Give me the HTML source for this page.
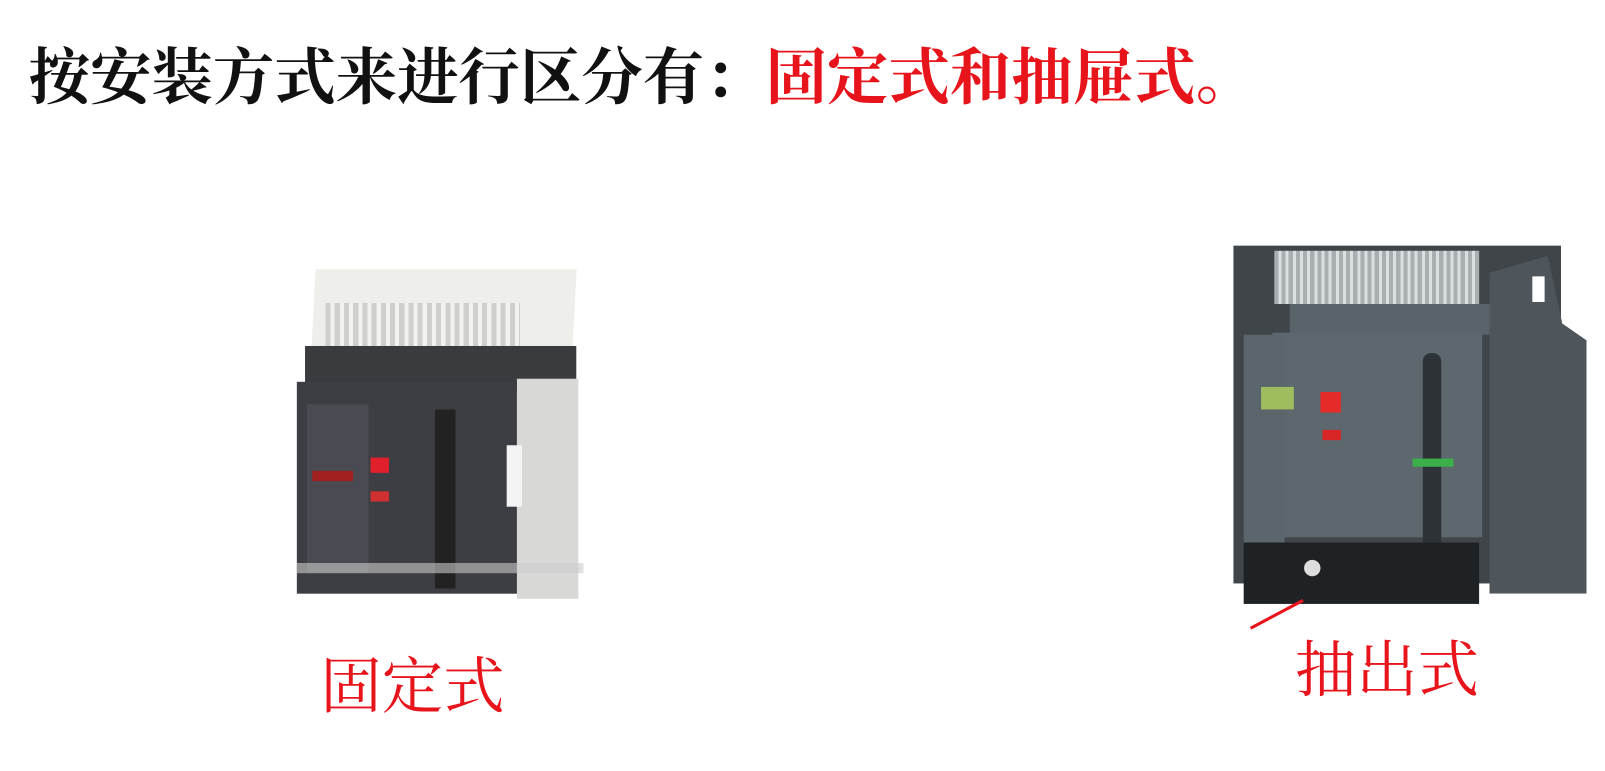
<!DOCTYPE html>
<html><head><meta charset="utf-8"><style>
body{margin:0;width:1605px;height:771px;background:#fff;position:relative;overflow:hidden;font-family:"Liberation Serif","Noto Serif CJK SC",serif}
#w{position:absolute;left:0;top:0;width:1568px;height:753px;transform:scale(1.0236);transform-origin:0 0}
.a{position:absolute}
.t{position:absolute;font-weight:bold;white-space:nowrap;line-height:1}
</style></head><body><div id="w">
<div class="t" style="left:28px;top:46px;font-size:60px;color:#111">按安装方式来进行区分有：<span style="color:#e8141b">固定式和抽屉式。</span></div>

<!-- left device -->
<div class="a" style="left:306px;top:263px;width:255px;height:90px;background:#eeeeea;transform:skewX(-3deg)"></div>
<div class="a" style="left:318px;top:296px;width:190px;height:50px;background:repeating-linear-gradient(90deg,#cfd0cc 0 5px,#f2f2ee 5px 9px)"></div>
<div class="a" style="left:298px;top:338px;width:265px;height:45px;background:#3a3b3f"></div>
<div class="a" style="left:505px;top:370px;width:60px;height:215px;background:#d8d9d6"></div>
<div class="a" style="left:290px;top:373px;width:215px;height:207px;background:#3d3e43"></div>
<div class="a" style="left:300px;top:395px;width:60px;height:165px;background:#4a4b52"></div>
<div class="a" style="left:425px;top:400px;width:20px;height:175px;background:#222"></div>
<div class="a" style="left:362px;top:447px;width:18px;height:15px;background:#e0202a"></div>
<div class="a" style="left:362px;top:480px;width:18px;height:10px;background:#d03030"></div>
<div class="a" style="left:305px;top:460px;width:40px;height:10px;background:#a02020"></div>
<div class="a" style="left:495px;top:435px;width:15px;height:60px;background:#f4f4f4"></div>
<div class="a" style="left:290px;top:550px;width:280px;height:10px;background:#ccc;opacity:.6"></div>

<!-- right device -->
<div class="a" style="left:1205px;top:240px;width:320px;height:330px;background:#3f4549"></div>
<div class="a" style="left:1245px;top:245px;width:200px;height:52px;background:repeating-linear-gradient(90deg,#a9aeb0 0 4px,#dcdfe0 4px 7px)"></div>
<div class="a" style="left:1260px;top:297px;width:210px;height:30px;background:#59636a"></div>
<div class="a" style="left:1455px;top:250px;width:95px;height:330px;background:#4e565c;clip-path:polygon(0 5%,60% 0,75% 20%,100% 25%,100% 100%,0 100%)"></div>
<div class="a" style="left:1497px;top:270px;width:12px;height:25px;background:#fff"></div>
<div class="a" style="left:1243px;top:325px;width:205px;height:200px;background:#5d676e"></div>
<div class="a" style="left:1215px;top:327px;width:40px;height:210px;background:#5b656c"></div>
<div class="a" style="left:1232px;top:378px;width:32px;height:22px;background:#9fbd5e"></div>
<div class="a" style="left:1290px;top:383px;width:20px;height:20px;background:#e52a2a"></div>
<div class="a" style="left:1292px;top:420px;width:18px;height:10px;background:#d82626"></div>
<div class="a" style="left:1390px;top:345px;width:18px;height:195px;background:#2d3236;border-radius:8px 8px 0 0"></div>
<div class="a" style="left:1380px;top:448px;width:40px;height:8px;background:#3bb04a"></div>
<div class="a" style="left:1215px;top:530px;width:230px;height:60px;background:#1f2225"></div>
<div class="a" style="left:1274px;top:547px;width:16px;height:16px;border-radius:50%;background:#ddd"></div>
<div class="a" style="left:1215px;top:585px;width:58px;height:3px;background:#e8141b;transform:rotate(-28deg);transform-origin:100% 50%"></div>

<div class="t" style="left:313px;top:641px;font-size:60px;color:#e8141b;font-weight:normal">固定式</div>
<div class="t" style="left:1265px;top:625px;font-size:60px;color:#e8141b;font-weight:normal">抽出式</div>
</div></body></html>
